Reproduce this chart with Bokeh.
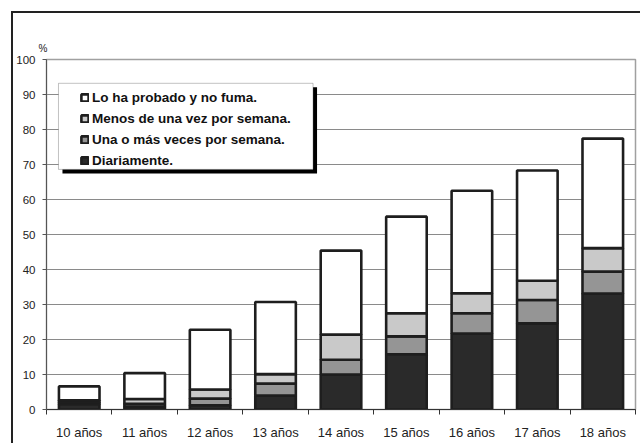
from bokeh.plotting import figure
from bokeh.models import (FactorRange, Range1d, LinearAxis, CategoricalAxis, FixedTicker,
                          CategoricalTicker, Legend, LegendItem, BoxAnnotation, Title)
from bokeh.embed import file_html
from bokeh.resources import INLINE

categories = ["10 años", "11 años", "12 años", "13 años", "14 años",
              "15 años", "16 años", "17 años", "18 años"]
diariamente = [1.5, 0.8, 1.2, 4.0, 10.0, 15.8, 21.7, 24.6, 33.1]
una_o_mas = [0.5, 0.8, 1.9, 3.4, 4.2, 5.1, 5.8, 6.7, 6.3]
menos_de_una = [0.6, 1.4, 2.6, 2.7, 7.2, 6.6, 5.7, 5.5, 6.7]
probado_no_fuma = [4.0, 7.4, 17.1, 20.6, 24.0, 27.6, 29.3, 31.5, 31.3]
series_labels = ["Diariamente.", "Una o más veces por semana.",
                 "Menos de una vez por semana.", "Lo ha probado y no fuma."]
series_colors = ["#2a2a2a", "#959595", "#c9c9c9", "#ffffff"]
y_ticks = [0, 10, 20, 30, 40, 50, 60, 70, 80, 90, 100]
boundary_ticks = list(range(len(categories) + 1))

FONT = "Liberation Sans"

source = dict(cat=categories, d=diariamente, u=una_o_mas, m=menos_de_una, p=probado_no_fuma)

p = figure(x_range=FactorRange(*categories, range_padding=0, factor_padding=0),
           y_range=Range1d(0, 100), width=629, height=432,
           output_backend="svg", toolbar_location=None, x_axis_location=None,
           min_border_left=32, min_border_right=7, min_border_top=46, min_border_bottom=36)
p.margin = (11, 0, 0, 11)
p.styles = {"border-left": "2px solid #222", "border-top": "2px solid #222"}

renderers = p.vbar_stack(["d", "u", "m", "p"], x="cat", width=0.62, source=source,
                         fill_color=series_colors, line_color="#1e1e1e", line_width=2.6)

p.outline_line_color = "#a0a0a0"
p.outline_line_width = 1.5
p.background_fill_color = "white"
p.border_fill_color = "white"

# y axis
yax = p.yaxis[0]
yax.ticker = FixedTicker(ticks=y_ticks)
yax.major_tick_out = 4
yax.major_tick_in = 0
yax.minor_tick_line_color = None
yax.axis_line_color = "#555555"
yax.major_tick_line_color = "#555555"
yax.major_label_text_font = FONT
yax.major_label_text_font_size = "11.5px"
yax.major_label_text_color = "#222222"
yax.major_label_standoff = 7

p.ygrid.grid_line_color = "#8a8a8a"
p.ygrid.grid_line_width = 1
p.ygrid.ticker = FixedTicker(ticks=y_ticks)
p.xgrid.visible = False

# x axis: boundary ticks + category labels
tick_axis = LinearAxis(ticker=FixedTicker(ticks=boundary_ticks),
                       major_label_text_font_size="0px", major_label_standoff=0,
                       major_tick_out=5, major_tick_in=0, minor_tick_line_color=None,
                       axis_line_color="#333333", major_tick_line_color="#333333",
                       major_label_text_alpha=0)
p.add_layout(tick_axis, "below")
cat_axis = CategoricalAxis(ticker=CategoricalTicker(), axis_line_color=None,
                           major_tick_line_color=None, minor_tick_line_color=None,
                           major_label_text_font=FONT, major_label_text_font_size="13px",
                           major_label_text_color="#222222", major_label_standoff=4)
p.add_layout(cat_axis, "below")

# legend box with shadow
shadow = BoxAnnotation(left=0.244, right=4.134, top=92.06, bottom=67.46,
                       fill_color="black", fill_alpha=1, line_color=None)
box = BoxAnnotation(left=0.183, right=4.073, top=93.2, bottom=68.6,
                    fill_color="white", fill_alpha=1, line_color="#333333", line_width=1)
p.add_layout(shadow)
p.add_layout(box)

items = [LegendItem(label=series_labels[i], renderers=[renderers[i]]) for i in range(3, -1, -1)]
legend = Legend(items=items, location=(34, 238), orientation="vertical",
                glyph_width=9, glyph_height=9, label_height=21, spacing=0, padding=2,
                label_standoff=3, margin=0, border_line_color=None, background_fill_alpha=0,
                label_text_font=FONT, label_text_font_size="13.5px",
                label_text_font_style="bold", label_text_color="#111111")
p.add_layout(legend, "center")

pct = Title(text="%", align="left", offset=-8, standoff=12, vertical_align="bottom",
            text_font=FONT, text_font_size="10px", text_font_style="normal",
            text_color="#222222")
p.add_layout(pct, "above")

open("out.html", "w").write(file_html(p, INLINE))
